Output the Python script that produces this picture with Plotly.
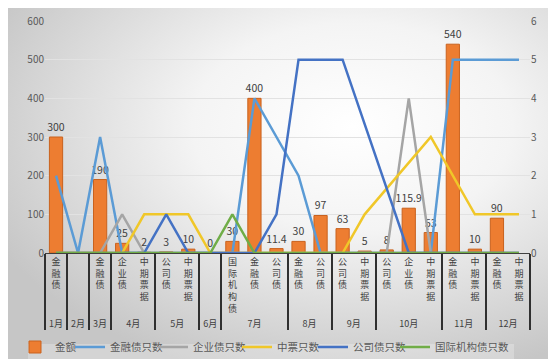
import base64
import plotly.graph_objects as go

# ---- data ----
months = ['1月', '2月', '3月', '4月', '4月', '5月', '5月', '6月', '7月', '7月', '7月',
          '8月', '8月', '9月', '9月', '10月', '10月', '10月', '11月', '11月', '12月', '12月']
bond_types = ['金融债', '', '金融债', '企业债', '中期票据', '公司债', '中期票据', '',
              '国际机构债', '金融债', '公司债', '金融债', '公司债', '公司债', '中期票据',
              '公司债', '企业债', '中期票据', '金融债', '中期票据', '金融债', '中期票据']
amount = [300, None, 190, 25, 2, 3, 10, 0, 30, 400, 11.4, 30, 97, 63, 5, 8, 115.9, 53,
          540, 10, 90, None]
amount_labels = ['300', '', '190', '25', '2', '3', '10', '0', '30', '400', '11.4', '30',
                 '97', '63', '5', '8', '115.9', '53', '540', '10', '90', '']
fin_count = [2, 0, 3, 0, 0, 0, 0, 0, 0, 4, None, 2, 0, 0, 0, 0, 0, 0, 5, 5, 5, 5]
ent_count = [0, 0, 0, 1, 0, 0, 0, 0, 0, 0, 0, 0, 0, 0, 0, 0, 4, 0, 0, 0, 0, 0]
mtn_count = [0, 0, 0, 0, 1, 1, 1, 0, 0, 0, 0, 0, 0, 0, 1, None, None, 3, None, 1, 1, 1]
corp_count = [0, 0, 0, 0, 0, 1, 0, 0, 0, 0, 1, 5, 5, 5, None, None, 0, 0, 0, 0, 0, 0]
intl_count = [0, 0, 0, 0, 0, 0, 0, 0, 1, 0, 0, 0, 0, 0, 0, 0, 0, 0, 0, 0, 0, 0]

FONT = 'Noto Sans CJK SC, Noto Sans, sans-serif'
W, H = 556, 359
ML, MR, MT, MB = 37, 34, 13, 114
PW, PH = W - ML - MR, H - MT - MB

# vertical (stacked) labels; a zero-width suffix keeps every slot distinct so the
# multicategory axis keeps the original order inside each month
vert = [('<br>'.join(list(s)) if s else ' ') + '\u200b' * i
        for i, s in enumerate(bond_types)]
x = [months, vert]

fig = go.Figure()
fig.add_trace(go.Bar(
    x=x, y=amount, name='金额', yaxis='y', legend='legend',
    marker=dict(color='#ED7D31', line=dict(color='#C9621E', width=1)),
    text=amount_labels, textposition='outside', cliponaxis=False,
    constraintext='none',
    textfont=dict(size=10.5, color='#404040', family=FONT),
    hoverinfo='skip'))

series = [
    ('金融债只数', fin_count, '#5B9BD5'),
    ('企业债只数', ent_count, '#A5A5A5'),
    ('中票只数', mtn_count, '#F0C729'),
    ('公司债只数', corp_count, '#4472C4'),
    ('国际机构债只数', intl_count, '#70AD47'),
]
for k, (name, vals, col) in enumerate(series):
    fig.add_trace(go.Scatter(
        x=x, y=vals, name=name, yaxis='y2', mode='lines', legend=f'legend{k + 2}',
        connectgaps=True, line=dict(color=col, width=2.5), cliponaxis=False))

svg = f'''<svg xmlns="http://www.w3.org/2000/svg" width="{W}" height="{H}" viewBox="0 0 {W} {H}" preserveAspectRatio="none">
<defs><radialGradient id="g" cx="0.62" cy="0.33" r="0.72">
<stop offset="0" stop-color="#ffffff"/><stop offset="0.4" stop-color="#f4f4f4"/>
<stop offset="1" stop-color="#c6c6c6"/></radialGradient></defs>
<rect width="{W}" height="{H}" fill="url(#g)"/>
<rect x="20" y="336" width="486" height="21" fill="#ffffff" fill-opacity="0.25"/></svg>'''
src = 'data:image/svg+xml;base64,' + base64.b64encode(svg.encode()).decode()

legend_left_px = [7, 62, 145, 229, 305, 387]
legend_y = -94 / PH
legends = {}
for k, lx in enumerate(legend_left_px):
    key = 'legend' if k == 0 else f'legend{k + 1}'
    legends[key] = dict(orientation='h', x=(lx - ML) / PW, xanchor='left', y=legend_y,
                        yanchor='middle', bgcolor='rgba(0,0,0,0)',
                        font=dict(size=10.5, color='#595959', family=FONT))

fig.update_layout(
    width=W, height=H,
    margin=dict(l=ML, r=MR, t=MT, b=MB, pad=0, autoexpand=False),
    paper_bgcolor='#e6e6e6', plot_bgcolor='rgba(0,0,0,0)',
    font=dict(family=FONT, size=10, color='#595959'),
    bargap=0.4, showlegend=True,
    images=[dict(source=src, xref='paper', yref='paper',
                 x=-ML / PW, y=1 + MT / PH, sizex=W / PW, sizey=H / PH,
                 sizing='stretch', xanchor='left', yanchor='top', layer='below')],
    xaxis=dict(type='multicategory', showgrid=False, ticks='', showline=True,
               linecolor='#404040', linewidth=1, layer='below traces',
               showdividers=True, dividercolor='#303030', dividerwidth=1.5,
               tickfont=dict(size=9, color='#404040', family=FONT)),
    yaxis=dict(range=[0, 600], dtick=100, showgrid=True, gridcolor='#e2e2e2',
               gridwidth=1, zeroline=False, showline=False, ticks='',
               tickfont=dict(size=10, color='#595959')),
    yaxis2=dict(range=[0, 6], dtick=1, overlaying='y', side='right', showgrid=False,
                zeroline=False, showline=False, ticks='',
                tickfont=dict(size=10, color='#595959')),
    **legends,
)

fig.write_html('out.html')
